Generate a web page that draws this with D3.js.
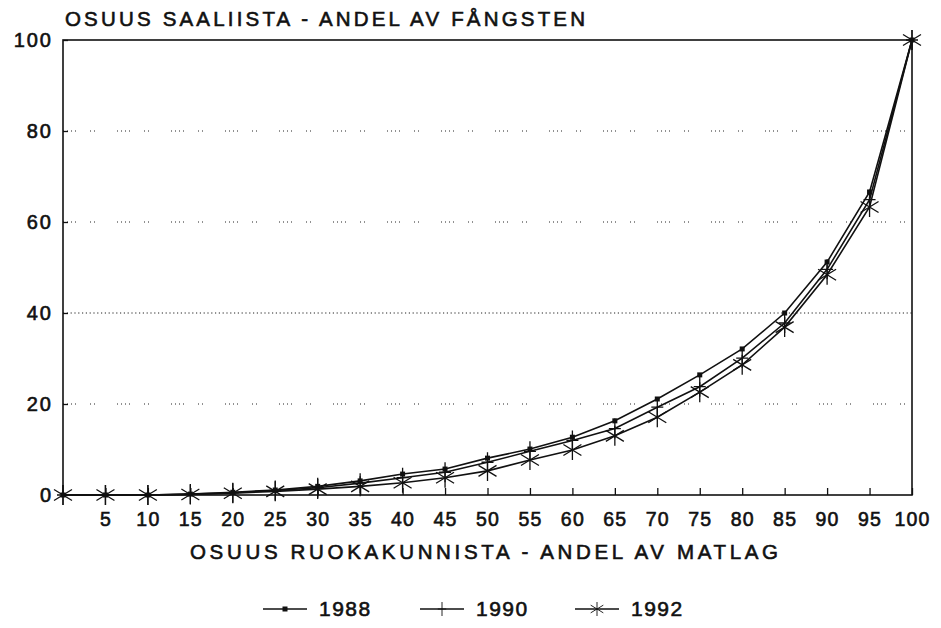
<!DOCTYPE html>
<html>
<head>
<meta charset="utf-8">
<script src="https://cdn.jsdelivr.net/npm/d3@7"></script>
<style>
  body { margin: 0; background: #fff; }
  text { font-family: "Liberation Sans", Arial, sans-serif; fill: #111; stroke: #111; stroke-width: 0.6; }
</style>
</head>
<body>
<script>
// share of households (x) vs share of catch (y), cumulative %
const xValues = [0, 5, 10, 15, 20, 25, 30, 35, 40, 45, 50, 55, 60, 65, 70, 75, 80, 85, 90, 95, 100];
const s1988 = [0, 0, 0, 0.2, 0.6, 1.1, 1.9, 3.1, 4.6, 5.7, 8.1, 10.1, 12.7, 16.3, 21.1, 26.4, 32.1, 40.0, 51.2, 66.6, 100];
const s1990 = [0, 0, 0, 0.2, 0.5, 1.0, 1.6, 2.6, 3.8, 5.0, 7.2, 9.6, 12.0, 14.6, 19.3, 23.8, 30.1, 37.8, 49.6, 64.9, 100];
const s1992 = [0, 0, 0, 0.1, 0.4, 0.8, 1.3, 1.9, 2.7, 3.8, 5.3, 7.7, 9.9, 13.0, 17.1, 22.6, 28.6, 36.9, 48.4, 63.3, 100];
const seriesNames = ["1988", "1990", "1992"];
const xTicks = [5, 10, 15, 20, 25, 30, 35, 40, 45, 50, 55, 60, 65, 70, 75, 80, 85, 90, 95, 100];
const yTicks = [0, 20, 40, 60, 80, 100];
const gridValues = [20, 40, 60, 80];

const width = 941, height = 628;
const margin = { left: 63, right: 29, top: 40, bottom: 133 };

const svg = d3.select("body").append("svg")
  .attr("width", width)
  .attr("height", height);

const x = d3.scaleLinear().domain([0, 100]).range([margin.left, width - margin.right]);
const y = d3.scaleLinear().domain([0, 100]).range([height - margin.bottom, margin.top]);

// gridlines (scanned dotted look)
svg.selectAll("line.grid")
  .data(gridValues)
  .enter().append("line")
  .attr("class", "grid")
  .attr("x1", x(0)).attr("x2", x(100))
  .attr("y1", d => y(d)).attr("y2", d => y(d))
  .attr("stroke", "#222")
  .attr("stroke-width", 1)
  .attr("stroke-dasharray", d => d === 40 ? "1.2,2.6" : "1,3,1,3,1,3,1,14,1,3,1,22");

// frame
svg.append("rect")
  .attr("x", x(0)).attr("y", y(100))
  .attr("width", x(100) - x(0)).attr("height", y(0) - y(100))
  .attr("fill", "none").attr("stroke", "#111").attr("stroke-width", 1.6);

// x ticks pointing up into plot
const xAxis = d3.axisBottom(x).tickValues(xTicks).tickSizeInner(-7).tickSizeOuter(0).tickPadding(17);
const gx = svg.append("g").attr("transform", `translate(0,${y(0)})`).call(xAxis);
gx.select(".domain").remove();
gx.selectAll(".tick line").attr("stroke", "#111").attr("stroke-width", 1.3);
gx.selectAll(".tick text").attr("font-size", 19.5).attr("fill", "#111")
  .attr("font-family", "Liberation Sans, Arial, sans-serif")
  .attr("letter-spacing", 1.2);

// y ticks pointing into plot
const yAxis = d3.axisLeft(y).tickValues(yTicks).tickSizeInner(-5).tickSizeOuter(0).tickPadding(10);
const gy = svg.append("g").attr("transform", `translate(${x(0)},0)`).call(yAxis);
gy.select(".domain").remove();
gy.selectAll(".tick line").attr("stroke", "#111").attr("stroke-width", 1.3);
gy.selectAll(".tick text").attr("font-size", 20).attr("fill", "#111")
  .attr("font-family", "Liberation Sans, Arial, sans-serif")
  .attr("letter-spacing", 2);

// titles
svg.append("text")
  .attr("x", 65).attr("y", 26)
  .attr("font-size", 20.5)
  .attr("textLength", 520)
  .attr("lengthAdjust", "spacing")
  .text("OSUUS SAALIISTA - ANDEL AV FÅNGSTEN");

svg.append("text")
  .attr("x", 190).attr("y", 559)
  .attr("font-size", 20.5)
  .attr("textLength", 588)
  .attr("lengthAdjust", "spacing")
  .text("OSUUS RUOKAKUNNISTA - ANDEL AV MATLAG");

// markers
function drawMarker(g, kind) {
  if (kind === "square") {
    g.append("rect").attr("x", -2.5).attr("y", -2.5).attr("width", 5).attr("height", 5).attr("fill", "#111");
  } else if (kind === "plus") {
    g.append("path").attr("d", "M0,-10V10M-6,0H6").attr("stroke", "#111").attr("stroke-width", 1.3).attr("fill", "none");
  } else {
    g.append("path").attr("d", "M0,-10V10M-9,-5.5L9,5.5M-9,5.5L9,-5.5").attr("stroke", "#111").attr("stroke-width", 1.3).attr("fill", "none");
  }
}

const seriesData = [s1988, s1990, s1992];
const markerKinds = ["square", "plus", "star"];

const line = d3.line().x((d, i) => x(xValues[i])).y(d => y(d));

seriesData.forEach((vals, si) => {
  svg.append("path")
    .datum(vals)
    .attr("fill", "none")
    .attr("stroke", "#111")
    .attr("stroke-width", 1.6)
    .attr("d", line);

  vals.forEach((v, i) => {
    const g = svg.append("g").attr("transform", `translate(${x(xValues[i])},${y(v)})`);
    drawMarker(g, markerKinds[si]);
  });
});

// legend
const legendX = [263, 420, 575];
const legendY = 616;
seriesNames.forEach((name, i) => {
  const g = svg.append("g").attr("transform", `translate(${legendX[i]},${legendY})`);
  g.append("line").attr("x1", 0).attr("x2", 44).attr("y1", -7).attr("y2", -7)
    .attr("stroke", "#111").attr("stroke-width", 1.3);
  const m = g.append("g").attr("transform", "translate(22,-7)");
  if (markerKinds[i] === "square") drawMarker(m, "square");
  else m.call(s => drawMarker(s, markerKinds[i])).attr("transform", "translate(22,-7) scale(0.7)");
  g.append("text").attr("x", 56).attr("y", 0).attr("font-size", 21).attr("letter-spacing", 1.5).text(name);
});
</script>
</body>
</html>
